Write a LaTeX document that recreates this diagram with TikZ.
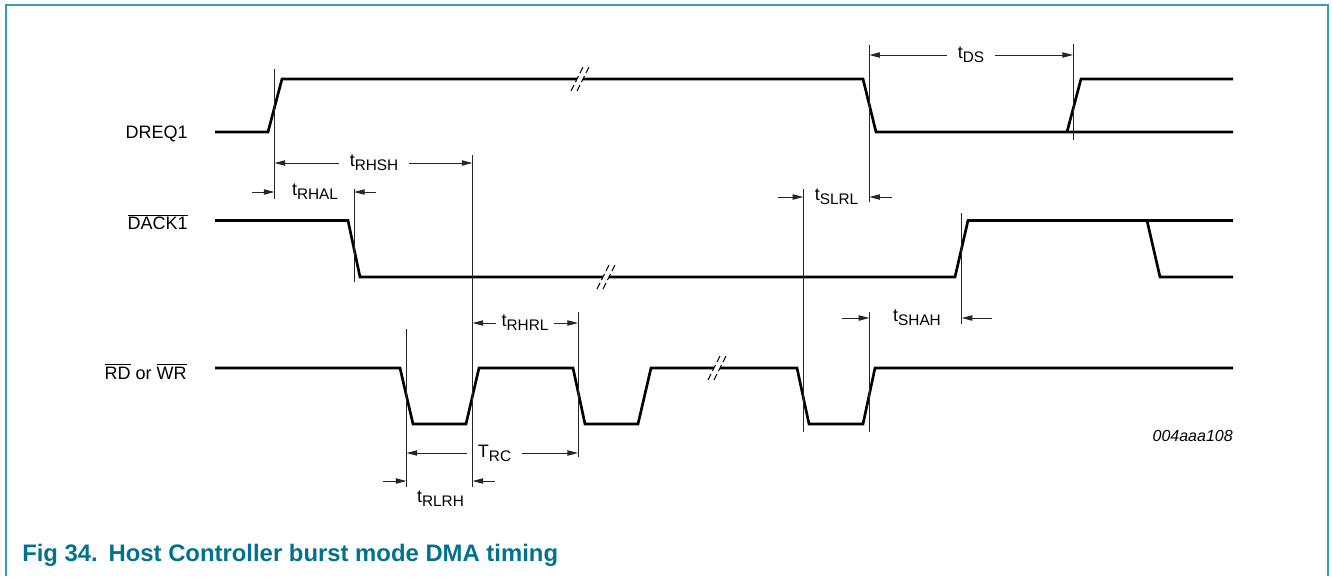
\documentclass[tikz,border=0pt]{standalone}
\usepackage{fontspec}
\setmainfont{Liberation Sans}
\usetikzlibrary{arrows.meta}
\definecolor{nxpteal}{HTML}{3A9BB5}
\definecolor{nxpcap} {HTML}{00718F}
\newcommand\tdim[2]{#1\raisebox{-3pt}{\fontsize{11.5}{12}\selectfont #2}}
\newcommand\ovl[1]{$\overline{\mbox{#1}}$}

\begin{document}
\begin{tikzpicture}[
  x=0.75pt, y=-0.75pt,
  font=\fontsize{13.5}{16}\selectfont,
  sig/.style  ={line width=2pt, line join=miter},
  tline/.style={line width=0.75pt, draw=black!85},
  dim/.style  ={tline, -{Triangle[length=8pt,width=4pt]}},
  lbl/.style  ={inner ysep=0pt, inner xsep=8pt},
  signame/.style ={anchor=base east, inner sep=0pt},
  frm/.style  ={draw=nxpteal, line width=1.5pt},
  brk/.pic    ={\draw[white, line width=4pt] (-3,0) -- (3,0);
                \draw[line width=0.75pt, dash pattern=on 5pt off 2.5pt]
                  (-9,12) -- (3,-12) (-3,12) -- (9,-12);},
]
\useasboundingbox (0,0) rectangle (1332,576);
\draw[frm] (5.5,576) -- (5.5,4.5) -- (1328,4.5) -- (1328,576);

% signal names
\node[signame] (nDreq) at (188,138.5) {DREQ1};
\node[signame] (nDack) at (188,229.5) {\ovl{DACK1}};
\node[signame] (nRdwr) at (187,379)   {\ovl{RD} or \ovl{WR}};

% waveforms
\draw[sig] (215,132) -- (268,132) -- (282,79) -- (863,79) -- (876,132) -- (1233,132)
           (1067,132) -- (1081,79) -- (1233,79);
\draw[sig] (215,220.5) -- (348,220.5) -- (360,277) -- (955,277) -- (968,220.5) -- (1233,220.5)
           (1147,220.5) -- (1160,277) -- (1233,277);
\draw[sig] (215,368) -- (400,368) -- (413,424) -- (466,424) -- (479,368) -- (573,368)
           -- (585,424) -- (638,424) -- (651,368) -- (797,368) -- (809,424) -- (863,424)
           -- (875,368) -- (1233,368);
\pic at (580,79)  {brk};
\pic at (606,277) {brk};
\pic at (717,368) {brk};

% timing marks
\coordinate (qDreqR)  at (274.5,69);
\coordinate (qDackF)  at (354,189);
\coordinate (qRd1F)   at (406.5,329);
\coordinate (qRd1R)   at (472.5,155);
\coordinate (qRd2F)   at (578,312);
\coordinate (qRd3F)   at (803.3,189);
\coordinate (qDreqF)  at (869.3,45);
\coordinate (qRd3R)   at (869.3,312);
\coordinate (qDackR)  at (961.7,213);
\coordinate (qDreqR2) at (1073,44);

\draw[tline] (qDreqR)  -- ++(0,130);
\draw[tline] (qDackF)  -- ++(0,93);
\draw[tline] (qRd1F)   -- ++(0,158);
\draw[tline] (qRd1R)   -- ++(0,332);
\draw[tline] (qRd2F)   -- ++(0,145);
\draw[tline] (qRd3F)   -- ++(0,243);
\draw[tline] (qDreqF)  -- ++(0,157);
\draw[tline] (qRd3R)   -- ++(0,120);
\draw[tline] (qDackR)  -- ++(0,111);
\draw[tline] (qDreqR2) -- ++(0,96);

% tDS
\node[lbl] (lDS) at (971,55) {\tdim{t}{DS}};
\draw[dim] (lDS.west) -- (qDreqF |- lDS.west);
\draw[dim] (lDS.east) -- (qDreqR2 |- lDS.east);

% tRHSH
\node[lbl] (lRHSH) at (374,163) {\tdim{t}{RHSH}};
\draw[dim] (lRHSH.west) -- (qDreqR |- lRHSH.west);
\draw[dim] (lRHSH.east) -- (qRd1R |- lRHSH.east);

% tRHAL
\node[lbl] (lRHAL) at (315,192) {\tdim{t}{RHAL}};
\draw[dim] (qDreqR |- lRHAL) ++(-22.5,0) -- ++(22.5,0);
\draw[dim] (qDackF |- lRHAL) ++(22,0) -- ++(-22,0);

% tSLRL
\node[lbl] (lSLRL) at (836.5,197) {\tdim{t}{SLRL}};
\draw[dim] (qRd3F |- lSLRL) ++(-25,0) -- ++(25,0);
\draw[dim] (qDreqF |- lSLRL) ++(23,0) -- ++(-23,0);

% tRHRL
\node[lbl, inner xsep=4pt] (lRHRL) at (525,323) {\tdim{t}{RHRL}};
\draw[dim] (lRHRL.west) -- (qRd1R |- lRHRL.west);
\draw[dim] (lRHRL.east) -- (qRd2F |- lRHRL.east);

% tSHAH
\node[lbl] (lSHAH) at (917,318) {\tdim{t}{SHAH}};
\draw[dim] (qRd3R |- lSHAH) ++(-27,0) -- ++(27,0);
\draw[dim] (qDackR |- lSHAH) ++(30,0) -- ++(-30,0);

% TRC
\node[lbl] (lRC) at (494.5,453) {\tdim{T}{RC}};
\draw[dim] (lRC.west) -- (qRd1F |- lRC.west);
\draw[dim] (lRC.east) -- (qRd2F |- lRC.east);

% tRLRH
\node[lbl] (lRLRH) at (440.5,499) {\tdim{t}{RLRH}};
\draw[dim] (qRd1F |- 0,481) ++(-23.5,0) -- ++(23.5,0);
\draw[dim] (qRd1R |- 0,481) ++(22.5,0) -- ++(-22.5,0);

\node[anchor=base east, inner sep=0pt, font=\fontsize{12}{14}\selectfont\itshape]
  (code) at (1233,441.5) {004aaa108};
\node[anchor=base west, inner sep=0pt, text=nxpcap, font=\fontsize{17.9}{20}\selectfont\bfseries]
  (cap) at (22,561) {Fig 34.\hspace{0.45em}Host Controller burst mode DMA timing};

\end{tikzpicture}
\end{document}
